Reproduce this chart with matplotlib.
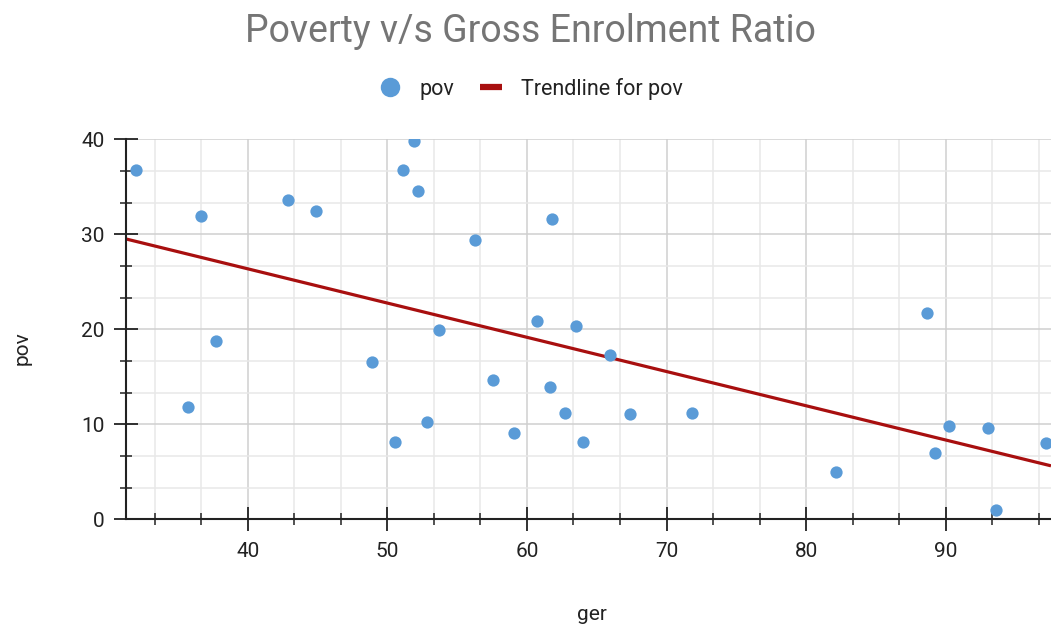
import numpy as np
import matplotlib
matplotlib.use("Agg")
import matplotlib.pyplot as plt
from matplotlib.ticker import MultipleLocator
from matplotlib.lines import Line2D

# gross enrolment ratio (x) vs poverty (y)
ger = [31.98, 36.63, 35.72, 37.73, 42.87, 44.87, 48.88, 50.53, 51.1, 51.9,
       52.17, 52.87, 53.73, 56.26, 57.55, 59.05, 60.75, 61.62, 61.82, 62.73,
       63.5, 64.04, 65.95, 67.41, 71.85, 82.14, 88.66, 89.23, 90.24, 93.03,
       93.6, 97.2]
pov = [36.8, 31.9, 11.8, 18.8, 33.65, 32.5, 16.56, 8.14, 36.8, 39.8,
       34.6, 10.24, 19.9, 29.37, 14.63, 9.12, 20.84, 13.97, 31.6, 11.19,
       20.3, 8.17, 17.26, 11.08, 11.19, 5.0, 21.7, 6.98, 9.83, 9.65,
       0.95, 8.0]
x_ticks = [40, 50, 60, 70, 80, 90]
y_ticks = [0, 10, 20, 30, 40]

plt.rcParams['font.family'] = ['Roboto', 'DejaVu Sans']

dot_col = '#5A9BD7'
trend_col = '#A80F0F'

fig = plt.figure(figsize=(10.51, 6.28), dpi=100)
W, H = 1051, 628
ax = fig.add_axes([126 / W, (H - 519.3) / H, (W - 126) / W, 380 / H])

xmin = 31.28
xmax = xmin + 925 / 13.96
ax.set_xlim(xmin, xmax)
ax.set_ylim(0, 40)

# trendline (least squares)
k, b = np.polyfit(ger, pov, 1)
xs = np.array([xmin, xmax])
ax.plot(xs, k * xs + b, color=trend_col, lw=2.3, zorder=3, solid_capstyle='butt')

ax.scatter(ger, pov, s=78, color=dot_col, zorder=4, linewidths=0)

ax.xaxis.set_major_locator(MultipleLocator(10))
ax.xaxis.set_minor_locator(MultipleLocator(10 / 3))
ax.yaxis.set_major_locator(MultipleLocator(10))
ax.yaxis.set_minor_locator(MultipleLocator(10 / 3))
ax.set_xticks(x_ticks)
ax.set_yticks(y_ticks)

ax.grid(which='minor', color='#e8e8e8', lw=1.1, zorder=0)
ax.grid(which='major', color='#cfcfcf', lw=1.1, zorder=0)
ax.set_axisbelow(True)

for s in ['top', 'right']:
    ax.spines[s].set_visible(False)
for s in ['left', 'bottom']:
    ax.spines[s].set_linewidth(1.5)
    ax.spines[s].set_color('#222222')
    ax.spines[s].set_zorder(5)

ax.tick_params(which='major', direction='inout', length=17, width=1.3,
               color='#222222', labelsize=15, labelcolor='#222222')
ax.tick_params(which='minor', direction='inout', length=8.5, width=1.1,
               color='#222222')
ax.tick_params(axis='x', which='major', pad=8)
ax.tick_params(axis='y', which='major', pad=7)

fig.text(592 / W, 1 - 615 / H, 'ger', ha='center', va='center',
         fontsize=15, color='#222222')
fig.text(22 / W, 1 - 348 / H, 'pov', ha='center', va='center',
         rotation=90, fontsize=15, color='#222222')

fig.text(530 / W, 1 - 31 / H, 'Poverty v/s Gross Enrolment Ratio',
         ha='center', va='center', fontsize=27, color='#757575')

handles = [Line2D([], [], ls='none', marker='o', ms=14, color=dot_col, mew=0),
           Line2D([], [], color=trend_col, lw=4.5, solid_capstyle='butt')]
fig.legend(handles, ['pov', 'Trendline for pov'], loc='center',
           bbox_to_anchor=(531 / W, 1 - 89 / H), ncol=2, frameon=False,
           fontsize=15.5, handlelength=1.0, columnspacing=1.2,
           handletextpad=0.9, labelcolor='#222222')

fig.savefig('out.png', dpi=100)
